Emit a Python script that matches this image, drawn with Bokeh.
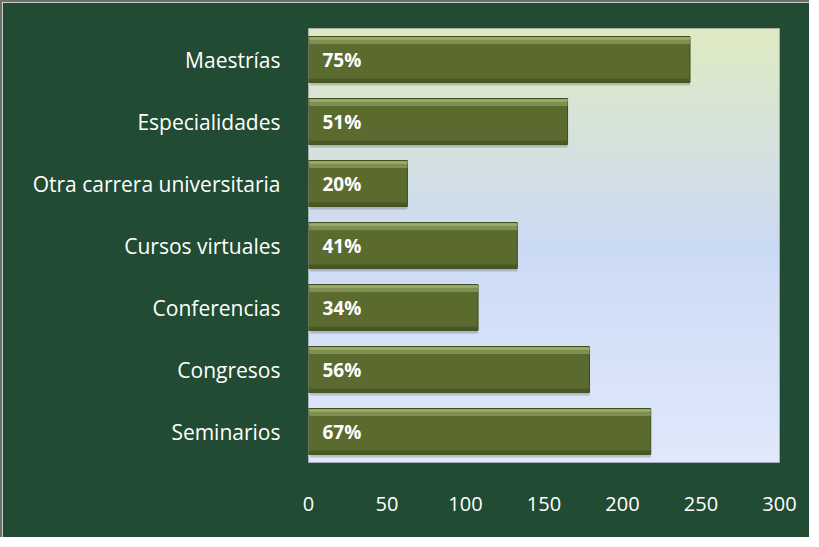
import numpy as np
from bokeh.plotting import figure
from bokeh.models import ColumnDataSource, FactorRange, Range1d, FixedTicker
from bokeh.transform import dodge
from bokeh.core.properties import value
from bokeh.embed import file_html
from bokeh.resources import INLINE

categories = ["Maestrías", "Especialidades", "Otra carrera universitaria",
              "Cursos virtuales", "Conferencias", "Congresos", "Seminarios"]
counts = [243, 165, 63, 133, 108, 179, 218]
percent_labels = ["75%", "51%", "20%", "41%", "34%", "56%", "67%"]
x_ticks = [0, 50, 100, 150, 200, 250, 300]

factors = categories[::-1]
src = ColumnDataSource(dict(cat=categories, val=counts, lab=percent_labels))

FONT = "Open Sans"

p = figure(width=809, height=537,
           y_range=FactorRange(factors=factors),
           x_range=Range1d(0, 300),
           output_backend="svg", toolbar_location=None,
           min_border_left=306, min_border_right=32,
           min_border_top=26, min_border_bottom=77)

p.border_fill_color = "#214b32"
p.background_fill_color = "#d6e2f2"
p.outline_line_color = "#8c9096"
p.outline_line_alpha = 0.8
p.xgrid.visible = False
p.ygrid.visible = False
p.styles = {"border-top": "2px solid #6f6f6f", "border-left": "2px solid #6f6f6f"}

# plot-area gradient (top pale yellow-green -> light blue -> lighter blue)
n = 120
stops_col = [(0xe0, 0xe9, 0xfb), (0xcb, 0xda, 0xf4), (0xdf, 0xea, 0xc3)]
img = np.zeros((n, 1), dtype=np.uint32)
view = img.view(dtype=np.uint8).reshape((n, 1, 4))
for i in range(n):
    t = i / (n - 1)
    if t <= 0.5:
        a, b, f = stops_col[0], stops_col[1], t / 0.5
    else:
        a, b, f = stops_col[1], stops_col[2], (t - 0.5) / 0.5
    c = [int(round(a[k] + (b[k] - a[k]) * f)) for k in range(3)]
    view[i, 0, 0], view[i, 0, 1], view[i, 0, 2], view[i, 0, 3] = c[0], c[1], c[2], 255
p.image_rgba(image=[img], x=0, y=0, dw=300, dh=len(categories))

BAR_H = 0.74
# shadow
p.hbar(y=dodge("cat", -0.05, range=p.y_range), left=1, right="val", height=BAR_H,
       source=src, fill_color="#000000", fill_alpha=0.18, line_color=None)
# main bar
p.hbar(y="cat", left=0, right="val", height=BAR_H, source=src,
       fill_color="#5b6b2f", line_color="#3f4b1c", line_width=1)
# bottom darker edge
p.hbar(y=dodge("cat", -BAR_H / 2 + 0.035, range=p.y_range), left=0, right="val",
       height=0.06, source=src, fill_color="#4a5724", line_color=None)
# top bevel highlight
p.hbar(y=dodge("cat", BAR_H / 2 - 0.065, range=p.y_range), left=0.5, right="val",
       height=0.11, source=src, fill_color="#7f9150", line_color=None)
p.hbar(y=dodge("cat", BAR_H / 2 - 0.03, range=p.y_range), left=0.5, right="val",
       height=0.04, source=src, fill_color="#9cad6e", line_color=None)

p.text(x=0, y="cat", text="lab", source=src, x_offset=14,
       text_baseline="middle", text_align="left", text_color="white",
       text_font=value(FONT), text_font_style="bold", text_font_size="19px")

for ax in (p.xaxis[0], p.yaxis[0]):
    ax.axis_line_color = None
    ax.major_tick_line_color = None
    ax.minor_tick_line_color = None
    ax.major_label_text_color = "white"
    ax.major_label_text_font = FONT

p.yaxis.major_label_text_font_size = "21px"
p.xaxis.major_label_text_font_size = "20px"
p.yaxis.major_label_standoff = 22
p.xaxis.ticker = FixedTicker(ticks=x_ticks)
p.xaxis.major_label_standoff = 28

open("out.html", "w").write(file_html(p, INLINE))
